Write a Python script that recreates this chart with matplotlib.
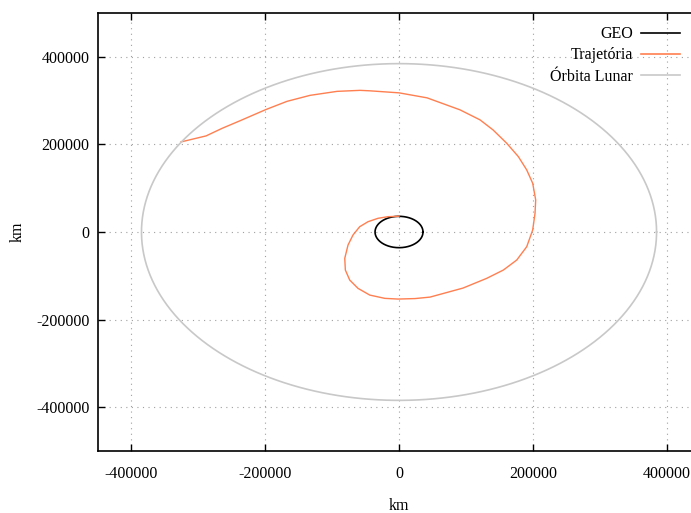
import numpy as np
import matplotlib
matplotlib.use('Agg')
import matplotlib.pyplot as plt
from matplotlib.lines import Line2D

# raios (km)
r_geo = 35786
r_lua = 384400

# trajetoria (km)
traj_x = [0, -16400, -31300, -46300, -58700, -68700, -76100, -81000, -80100, -73600,
          -61200, -43700, -21300, -1500, 23900, 46300, 95500, 130900, 155700, 175700,
          190600, 199500, 203000, 204000, 199500, 190600, 178100, 160700, 140300, 120900,
          91000, 41800, 0, -43300, -58200, -92500, -132800, -167200, -198500, -237300,
          -264200, -288000, -325400]
traj_y = [36000, 35000, 31300, 23500, 12100, -6900, -29700, -60100, -86900, -109700,
          -128700, -144000, -151500, -153100, -152000, -148600, -128000, -105800, -86900, -64000,
          -33600, 4600, 42700, 73100, 111300, 141700, 172100, 202700, 233100, 256000,
          278900, 306300, 317700, 322300, 323400, 321100, 312000, 298300, 279700, 254000,
          236600, 219400, 205700]

ticks = [-400000, -200000, 0, 200000, 400000]

plt.rcParams['font.family'] = ['Liberation Serif', 'DejaVu Serif']
plt.rcParams['font.size'] = 11.5

fig = plt.figure(figsize=(6.91, 5.13), dpi=100)
ax = fig.add_axes([98/691, (513-451)/513, (691-98)/691, (451-13)/513])

t = np.linspace(0, 2*np.pi, 400)
ax.plot(r_geo*np.cos(t), r_geo*np.sin(t), color='black', lw=1.2)
ax.plot(traj_x, traj_y, color='#ff7f50', lw=1.0)
ax.plot(r_lua*np.cos(t), r_lua*np.sin(t), color='#c8c8c8', lw=1.2)

ax.set_xlim(-449300, 435800)
ax.set_ylim(-500000, 500000)
ax.set_xticks(ticks)
ax.set_yticks(ticks)
ax.set_xticklabels([str(v) for v in ticks])
ax.set_yticklabels([str(v) for v in ticks])
ax.tick_params(axis='x', direction='in', top=True, length=5, width=1, pad=11)
ax.tick_params(axis='y', direction='in', right=False, length=5, width=1, pad=6)
ax.spines['right'].set_visible(False)
for s in ['left', 'bottom', 'top']:
    ax.spines[s].set_linewidth(1.2)
ax.grid(True, color='#a0a0a0', ls=(0, (1, 4)), lw=0.8)

ax.set_xlabel('km', va='center')
ax.xaxis.set_label_coords(0.5076, -0.1256)
ax.set_ylabel('km', va='center')
ax.yaxis.set_label_coords(-0.135, 0.5)

# legenda estilo gnuplot
handles = [Line2D([], [], color='black', lw=1.2),
           Line2D([], [], color='#ff7f50', lw=1.2),
           Line2D([], [], color='#c8c8c8', lw=1.2)]
labels = ['GEO', 'Trajetória', 'Órbita Lunar']
leg = ax.legend(handles, labels, loc='upper right', bbox_to_anchor=(1.0, 0.995),
                frameon=False, markerfirst=False, handlelength=2.4,
                labelspacing=0.32, borderaxespad=0.3, handletextpad=0.55,
                fontsize=11.5)

fig.savefig('out.png', dpi=100)
